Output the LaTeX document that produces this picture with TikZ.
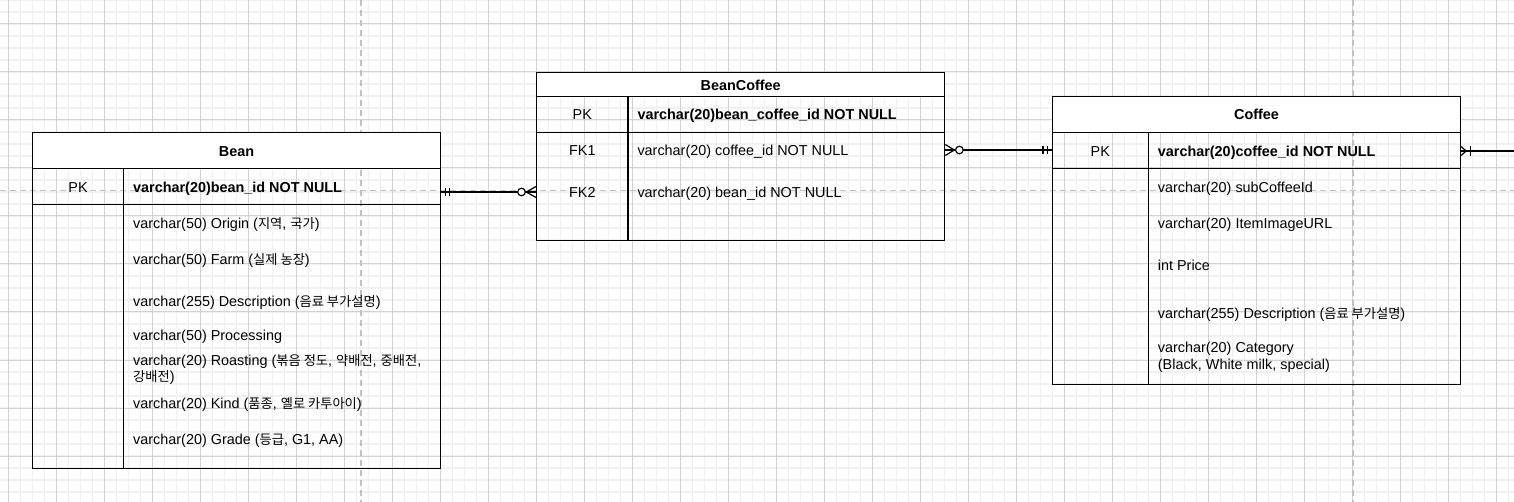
\documentclass[tikz,border=0pt]{standalone}
\usepackage{fontspec}
\setmainfont{Liberation Sans}
\newfontfamily\kr[Scale=0.92]{Noto Sans CJK KR}
\usetikzlibrary{calc}
\definecolor{minorc}{HTML}{F1F1F1}
\definecolor{majorc}{HTML}{D2D2D2}
\definecolor{pagec}{HTML}{C2C2C2}
\tikzset{
  minorgrid/.style={draw=minorc, line width=1.4pt},
  majorgrid/.style={draw=majorc, line width=1pt},
  pagebreak/.style={draw=pagec, line width=1.6pt, dash pattern=on 6pt off 4pt},
  tbl/.style={draw=black, line width=1.2pt, inner sep=0pt, minimum width=408pt},
  tline/.style={draw=black, line width=1.2pt},
  conn/.style={draw=black, line width=1.2pt},
  txt/.style={font=\fontsize{14.4}{16.5}\selectfont, inner sep=0pt, anchor=base west},
  btxt/.style={font=\fontsize{14.4}{16.5}\selectfont\bfseries, inner sep=0pt, anchor=base west},
  ttl/.style={font=\fontsize{14.4}{16.5}\selectfont\bfseries, inner sep=0pt, anchor=base},
  keytxt/.style={font=\fontsize{14.4}{16.5}\selectfont, inner sep=0pt, anchor=base},
}
\begin{document}
\begin{tikzpicture}[x=1pt,y=-1pt]
\useasboundingbox (0,0) rectangle (1514,502);
\fill[white] (0,0) rectangle (1514,502);
% grid
\foreach \i in {0,...,127} \draw[minorgrid] (-3.3+12*\i,0) -- (-3.3+12*\i,502);
\foreach \j in {0,...,42} \draw[minorgrid] (0,12*\j) -- (1514,12*\j);
\foreach \i in {0,...,31} \draw[majorgrid] (8.7+48*\i,0) -- (8.7+48*\i,502);
\foreach \j in {0,...,10} \draw[majorgrid] (0,24+48*\j) -- (1514,24+48*\j);
% page break lines
\draw[pagebreak] (360.7,0) -- (360.7,502);
\draw[pagebreak] (1352.7,0) -- (1352.7,502);
\draw[pagebreak] (0,190.7) -- (1514,190.7);

% ---------- Bean ----------
\fill[white] (32.5,132.3) rectangle (440.5,168.3);
\node[tbl, minimum height=336pt] (bean) at (236.5,300.3) {};
\draw[tline] (32.5,168.3) -- (440.5,168.3);
\draw[tline] (32.5,204.3) -- (440.5,204.3);
\draw[tline] (123.6,168.3) -- (123.6,468.3);
\node[ttl] (beant) at (236.5,156.2) {Bean};
\node[keytxt] (beanpk) at (78,192.9) {PK};
\node[btxt] (beanid) at (133,192.9) {varchar(20)bean\_id NOT NULL};
\node[txt] (beanf1) at (133,228.5) {varchar(50) Origin ({\kr 지역}, {\kr 국가})};
\node[txt] (beanf2) at (133,264.5) {varchar(50) Farm ({\kr 실제 농장})};
\node[txt] (beanf3) at (133,306.9) {varchar(255) Description ({\kr 음료 부가설명})};
\node[txt] (beanf4) at (133,340.2) {varchar(50) Processing};
\node[txt] (beanf5) at (133,365.2) {varchar(20) Roasting ({\kr 볶음 정도}, {\kr 약배전}, {\kr 중배전},};
\node[txt] (beanf5b) at (133,381.2) {{\kr 강배전})};
\node[txt] (beanf6) at (133,408.5) {varchar(20) Kind ({\kr 품종}, {\kr 옐로 카투아이})};
\node[txt] (beanf7) at (133,444.5) {varchar(20) Grade ({\kr 등급}, G1, AA)};

% ---------- BeanCoffee ----------
\fill[white] (536.7,72.3) rectangle (944.7,96.3);
\node[tbl, minimum height=168pt] (bc) at (740.7,156.3) {};
\draw[tline] (536.7,96.3) -- (944.7,96.3);
\draw[tline] (536.7,132.3) -- (944.7,132.3);
\draw[tline] (627.9,96.3) -- (627.9,240.3);
\node[ttl] (bct) at (740.7,90.2) {BeanCoffee};
\node[keytxt] (bcpk) at (582.3,119.5) {PK};
\node[btxt] (bcid) at (637.3,119.5) {varchar(20)bean\_coffee\_id NOT NULL};
\node[keytxt] (bcfk1) at (582.3,155.9) {FK1};
\node[txt] (bcf1) at (637.3,155.9) {varchar(20) coffee\_id NOT NULL};
\node[keytxt] (bcfk2) at (582.3,197.9) {FK2};
\node[txt] (bcf2) at (637.3,197.9) {varchar(20) bean\_id NOT NULL};

% ---------- Coffee ----------
\fill[white] (1052.5,96.3) rectangle (1460.5,132.3);
\node[tbl, minimum height=288pt] (coffee) at (1256.5,240.3) {};
\draw[tline] (1052.5,132.3) -- (1460.5,132.3);
\draw[tline] (1052.5,168.3) -- (1460.5,168.3);
\draw[tline] (1148.3,132.3) -- (1148.3,384.3);
\node[ttl] (coffeet) at (1256.5,119.9) {Coffee};
\node[keytxt] (coffeepk) at (1100.3,156.2) {PK};
\node[btxt] (coffeeid) at (1157.7,156.2) {varchar(20)coffee\_id NOT NULL};
\node[txt] (cf1) at (1157.7,192.2) {varchar(20) subCoffeeId};
\node[txt] (cf2) at (1157.7,228.5) {varchar(20) ItemImageURL};
\node[txt] (cf3) at (1157.7,270.2) {int Price};
\node[txt] (cf4) at (1157.7,318.5) {varchar(255) Description ({\kr 음료 부가설명})};
\node[txt] (cf5) at (1157.7,352.5) {varchar(20) Category};
\node[txt] (cf5b) at (1157.7,369.2) {(Black, White milk, special)};

% ---------- connectors ----------
\coordinate (y1) at (0,192);
\coordinate (y2) at (0,150);
\coordinate (y3) at (0,151);
\coordinate (offright) at (1514,151);

% Bean -> BeanCoffee (one mandatory to zero-or-many)
\coordinate (p1) at (bean.east |- y1);
\coordinate (q1) at (bc.west |- y1);
\draw[conn] (p1) -- (q1);
\draw[conn] ($(p1)+(4.5,-4.2)$) -- ($(p1)+(4.5,4.2)$);
\draw[conn] ($(p1)+(8.7,-4.2)$) -- ($(p1)+(8.7,4.2)$);
\draw[conn] ($(q1)+(0,-5.5)$) -- ($(q1)+(-10,0)$) -- ($(q1)+(0,5.5)$);
\draw[conn, fill=white] ($(q1)+(-14.6,0)$) circle[radius=3.8];

% BeanCoffee -> Coffee
\coordinate (p2) at (bc.east |- y2);
\coordinate (q2) at (coffee.west |- y2);
\draw[conn] (p2) -- (q2);
\draw[conn] ($(p2)+(0,-5.5)$) -- ($(p2)+(9,0)$) -- ($(p2)+(0,5.5)$);
\draw[conn, fill=white] ($(p2)+(14.1,0)$) circle[radius=3.8];
\draw[conn] ($(q2)+(-4.8,-4.2)$) -- ($(q2)+(-4.8,4.2)$);
\draw[conn] ($(q2)+(-9,-4.2)$) -- ($(q2)+(-9,4.2)$);

% Coffee -> off picture
\coordinate (p3) at (coffee.east |- y3);
\draw[conn] (p3) -- (offright);
\draw[conn] ($(p3)+(0,-4.5)$) -- ($(p3)+(5,0)$) -- ($(p3)+(0,4.5)$);
\draw[conn] ($(p3)+(9,-5)$) -- ($(p3)+(9,5)$);
\end{tikzpicture}
\end{document}
